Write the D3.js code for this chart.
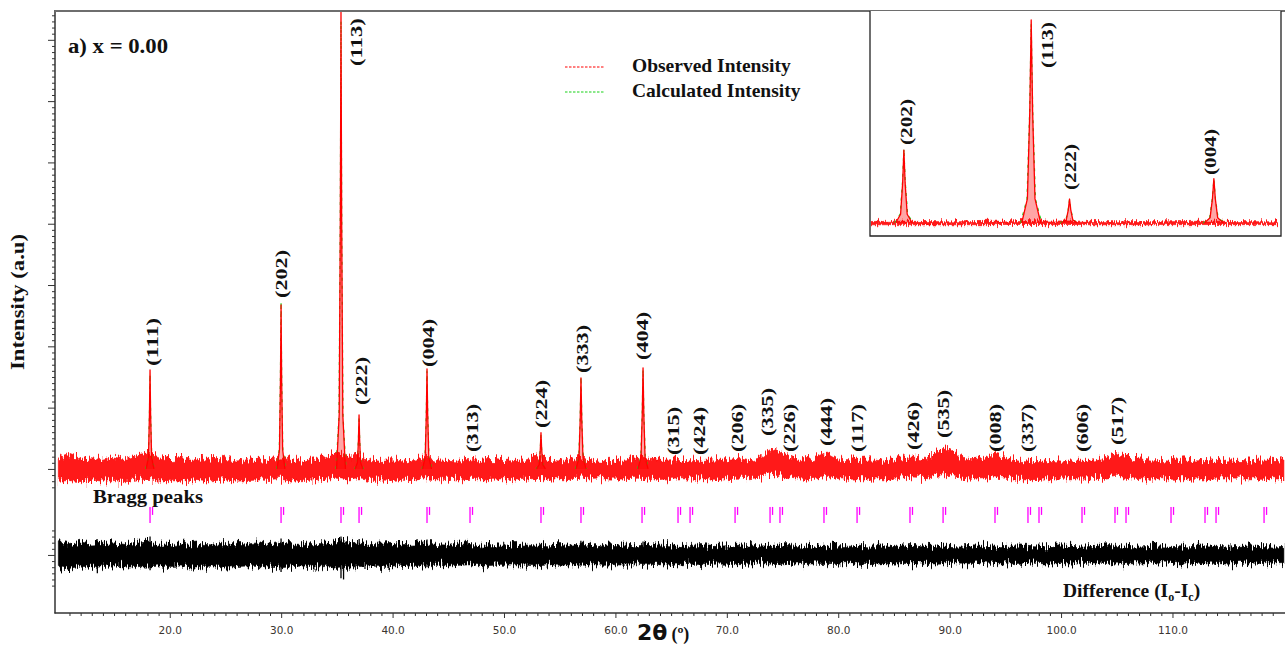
<!DOCTYPE html>
<html><head><meta charset="utf-8">
<script src="https://cdn.jsdelivr.net/npm/d3@7/dist/d3.min.js"></script>
<style>
body{margin:0;background:#fff;}
svg{display:block;}
.serif{font-family:"Liberation Serif","Times New Roman",serif;font-weight:bold;fill:#111;}
.tick text{font-family:"DejaVu Sans",Tahoma,sans-serif;font-size:10.5px;fill:#3b3530;}
</style></head><body>
<svg id="chart" width="1285" height="646"></svg>
<script>
// ---------- data (2θ in degrees, intensities in counts above background) ----------
// background envelope of the observed scan, sampled every 1° from 10° to 120°
const obsTop = [180,240,170,200,160,210,170,230,260,200,
  150,170,140,190,150,160,130,150,140,170,
  200,150,130,150,200,260,210,220,160,140,
  150,130,160,210,150,140,130,160,130,140,
  120,140,150,200,140,130,160,200,140,120,
  130,150,190,160,140,150,130,160,140,150,
  170,190,150,200,330,250,170,150,180,260,
  160,150,140,150,130,150,200,190,170,300,
  340,180,150,170,240,210,150,130,120,140,
  130,150,140,150,170,250,200,150,130,140,
  120,150,130,140,120,150,140,130,150,140,
  130];
const obsBottom = [-200,-190,-210,-180,-200,-190,-210,-180,-170,-200,
  -190,-200,-180,-200,-190,-180,-200,-190,-180,-190,
  -170,-200,-190,-180,-170,-150,-180,-160,-190,-180,
  -190,-170,-180,-160,-180,-170,-180,-170,-180,-170,
  -160,-180,-170,-150,-170,-160,-160,-150,-170,-160,
  -170,-160,-150,-170,-190,-170,-160,-170,-160,-170,
  -160,-150,-160,-140,-90,-120,-160,-170,-150,-120,
  -160,-170,-160,-170,-160,-170,-140,-150,-160,-100,
  -90,-150,-170,-160,-130,-150,-170,-180,-170,-160,
  -170,-160,-170,-160,-150,-120,-140,-160,-170,-160,
  -170,-160,-170,-160,-170,-160,-170,-160,-170,-160,
  -170];
// envelope of the difference trace (Io - Ic), same sampling
const diffTop = [200,170,210,180,190,200,170,190,210,180,
  180,200,170,190,180,170,190,180,200,170,
  220,180,170,190,180,240,200,210,170,180,
  190,170,180,200,170,160,180,170,160,170,
  160,170,180,160,150,170,160,180,150,160,
  170,160,150,170,160,150,140,160,150,140,
  150,140,160,150,140,150,160,140,150,140,
  150,160,140,130,150,140,150,160,140,150,
  140,130,150,140,130,140,150,140,130,140,
  150,140,130,140,150,160,140,130,140,150,
  140,130,140,150,140,130,140,150,140,130,
  140];
const diffBottom = [-190,-220,-180,-210,-190,-180,-200,-190,-200,-180,
  -190,-180,-200,-190,-180,-200,-190,-180,-190,-200,
  -210,-190,-180,-200,-190,-220,-200,-190,-180,-190,
  -180,-170,-190,-180,-170,-180,-170,-160,-180,-170,
  -170,-160,-170,-180,-160,-170,-160,-170,-160,-170,
  -160,-170,-160,-150,-160,-170,-160,-150,-160,-150,
  -150,-160,-150,-140,-150,-160,-150,-140,-150,-160,
  -150,-140,-150,-160,-140,-150,-140,-150,-140,-150,
  -140,-150,-140,-130,-140,-150,-140,-130,-140,-150,
  -140,-150,-140,-130,-140,-150,-140,-150,-140,-130,
  -140,-150,-140,-130,-140,-150,-140,-130,-140,-150,
  -140];
// isolated spikes in the difference trace: [2θ, low, high]
const diffSpikes = [[13.5,-300,150],[18.23,-250,300],[29.99,-280,270],[35.37,-380,300],
  [35.6,-400,100],[37.0,-150,260],[43.09,-200,250],[56.9,-150,230],[62.48,-180,220]];

// sharp reflections: position, observed height, calculated height, half base width
const peakTheta = [18.23, 29.99, 35.37, 36.99, 43.09, 53.32, 56.91, 62.48];
const peakObs   = [1615, 2675, 7450, 880, 1630, 590, 1485, 1650];
const peakCalc  = [1540, 2720, 7300, 860, 1600, 560, 1500, 1620];
const peakHalfWidth = [0.35, 0.35, 0.40, 0.35, 0.40, 0.40, 0.45, 0.45];

// Bragg reflection positions
const braggTheta = [18.23, 29.99, 35.37, 36.99, 43.09, 46.95, 53.32, 56.91, 62.39, 65.62,
  66.70, 70.74, 73.88, 74.77, 78.72, 81.69, 86.44, 89.41, 94.07, 97.03,
  98.02, 101.88, 104.84, 105.83, 109.87, 112.92, 113.91, 118.22];

// Miller-index annotations: label, 2θ of label, intensity level it sits on
const hkl = ["(111)","(202)","(113)","(222)","(004)","(313)","(224)","(333)","(404)","(315)",
  "(424)","(206)","(335)","(226)","(444)","(117)","(426)","(535)","(008)","(337)","(606)","(517)"];
const hklTheta = [18.41, 29.99, 36.72, 37.17, 43.18, 47.13, 53.32, 57.00, 62.39, 65.17,
  67.51, 70.92, 73.61, 75.58, 78.90, 81.69, 86.71, 89.41, 94.07, 96.95, 101.88, 105.03];
const hklLevel = [1599, 2708, 6490, 962, 1582, 196, 587, 1484, 1697, 147,
  147, 196, 457, 196, 294, 196, 228, 424, 196, 196, 196, 310];

// inset (28.6°–45.8°) annotations
const insetHkl = ["(202)","(113)","(222)","(004)"];
const insetTheta = [30.08, 36.04, 37.01, 42.93];
const insetLevel = [2679, 5505, 1028, 1578];

// axis ticks
const xMajor = [20, 30, 40, 50, 60, 70, 80, 90, 100, 110];
const xMinor = d3.range(11, 121).filter(v => v % 10 !== 0);
const yMajor = [0, 1000, 2000, 3000, 4000, 5000, 6000, 7000];
const yMinor = d3.range(-300, 7401, 100).filter(v => v % 1000 !== 0);

// ---------- layout ----------
const DIFF_OFFSET = -1403;            // baseline of the difference trace on the intensity axis
const BRAGG_TOP = -620, BRAGG_BOT = -880, BRAGG_K2 = -750;
const gridTheta = d3.range(10, 121, 1);

const svg = d3.select("#chart");
const x = d3.scaleLinear().domain([9.7, 120.1]).range([55, 1285]);
const y = d3.scaleLinear().domain([-2350, 7470]).range([613, 11]);

const RED = "#ff0000", GREEN = "#19d219", MAGENTA = "#ff00ff";

const defs = svg.append("defs");
defs.append("clipPath").attr("id", "plotClip")
  .append("rect").attr("x", 56).attr("y", 11).attr("width", 1229).attr("height", 601);

// ragged-edge texture for the dense scan bands (vertical displacement only)
function addRagged(id, freq, amount) {
  const f = defs.append("filter").attr("id", id)
    .attr("x", "-1%").attr("y", "-80%").attr("width", "102%").attr("height", "260%")
    .attr("color-interpolation-filters", "sRGB");
  f.append("feTurbulence").attr("type", "fractalNoise").attr("baseFrequency", freq)
    .attr("numOctaves", 2).attr("seed", 7).attr("result", "turb");
  f.append("feColorMatrix").attr("in", "turb").attr("type", "matrix")
    .attr("values", "0 0 0 0 0.5  0 1 0 0 0  0 0 1 0 0  0 0 0 0 1").attr("result", "map");
  f.append("feDisplacementMap").attr("in", "SourceGraphic").attr("in2", "map")
    .attr("scale", amount).attr("xChannelSelector", "R").attr("yChannelSelector", "G");
}
addRagged("ragged", "0.8 0.06", 18);
addRagged("raggedSmall", "0.8 0.08", 9);

const plot = svg.append("g").attr("clip-path", "url(#plotClip)");

// peak glyph: fractional offsets across the base and fractional heights
const profile = [[-1,0],[-0.4,0.12],[-0.15,0.55],[0,1],[0.15,0.55],[0.4,0.12],[1,0]];
function peakPoints(t, h, hw) {
  return profile.map(([f, k]) => ({t: t + f * hw, v: k * h}));
}

function drawScan(g, xs, ys, opts) {
  const band = gridTheta.map((t, i) => ({t, hi: obsTop[i], lo: obsBottom[i]}));
  g.append("path").datum(band)
    .attr("d", d3.area().x(d => xs(d.t)).y0(d => ys(d.lo * opts.noise)).y1(d => ys(d.hi * opts.noise)))
    .attr("fill", RED).attr("fill-opacity", 0.9)
    .attr("stroke", RED).attr("stroke-width", 0.6)
    .attr("filter", `url(#${opts.filter})`);
  const ln = d3.line().x(d => xs(d.t)).y(d => ys(d.v));
  peakTheta.forEach((t, i) => {
    g.append("path").attr("d", ln(peakPoints(t, peakCalc[i], peakHalfWidth[i] * 1.12)))
      .attr("fill", "none").attr("stroke", GREEN).attr("stroke-width", 1.2)
      .attr("stroke-dasharray", "3,5");
    g.append("path").attr("d", ln(peakPoints(t, peakObs[i], peakHalfWidth[i])))
      .attr("fill", "rgba(255,0,0,0.35)").attr("stroke", RED).attr("stroke-width", 1.3)
      .attr("stroke-linejoin", "round");
  });
}

// observed / calculated
drawScan(plot, x, y, {noise: 1, filter: "ragged"});

// Bragg markers
const bragg = plot.append("g").attr("stroke", MAGENTA).attr("stroke-width", 1.3);
braggTheta.forEach(t => {
  bragg.append("line").attr("x1", x(t)).attr("x2", x(t)).attr("y1", y(BRAGG_TOP)).attr("y2", y(BRAGG_BOT));
  bragg.append("line").attr("x1", x(t) + 2.5).attr("x2", x(t) + 2.5).attr("y1", y(BRAGG_TOP)).attr("y2", y(BRAGG_K2));
});

// difference trace
const diffBand = gridTheta.map((t, i) => ({t, hi: diffTop[i], lo: diffBottom[i]}));
plot.append("path").datum(diffBand)
  .attr("d", d3.area().x(d => x(d.t)).y0(d => y(DIFF_OFFSET + d.lo)).y1(d => y(DIFF_OFFSET + d.hi)))
  .attr("fill", "#000").attr("stroke", "#000").attr("stroke-width", 0.6)
  .attr("filter", "url(#ragged)");
diffSpikes.forEach(([t, lo, hi]) => {
  plot.append("line").attr("x1", x(t)).attr("x2", x(t))
    .attr("y1", y(DIFF_OFFSET + lo)).attr("y2", y(DIFF_OFFSET + hi))
    .attr("stroke", "#000").attr("stroke-width", 1.3);
});

// Miller indices
hkl.forEach((lab, i) => {
  svg.append("text").attr("class", "serif")
    .attr("transform", `translate(${x(hklTheta[i]) + 6},${y(hklLevel[i]) - 5}) rotate(-90)`)
    .attr("font-size", 17).attr("textLength", 48).attr("lengthAdjust", "spacingAndGlyphs")
    .text(lab);
});

// ---------- axes ----------
const axisColor = "#333";
function styleAxis(g) {
  g.select(".domain").remove();
  g.selectAll(".tick line").attr("stroke", axisColor).attr("stroke-width", 1);
}
svg.append("g").attr("transform", "translate(55,0)")
  .call(d3.axisLeft(y).tickValues(yMajor).tickSize(7).tickFormat("")).call(styleAxis);
svg.append("g").attr("transform", "translate(55,0)")
  .call(d3.axisLeft(y).tickValues(yMinor).tickSize(3).tickFormat("")).call(styleAxis);
const diffTicks = d3.range(-500, 401, 100);
svg.append("g").attr("transform", "translate(55,0)")
  .call(d3.axisLeft(y).tickValues(diffTicks.map(v => DIFF_OFFSET + v))
    .tickSize(3).tickFormat("")).call(styleAxis)
  .selectAll(".tick line").attr("x2", (d) => d === DIFF_OFFSET ? -7 : -3);

svg.append("g").attr("transform", "translate(0,613)")
  .call(d3.axisBottom(x).tickValues(xMajor).tickSize(5).tickPadding(9).tickFormat(d3.format(".1f")))
  .call(styleAxis);
svg.append("g").attr("transform", "translate(0,613)")
  .call(d3.axisBottom(x).tickValues(xMinor).tickSize(3).tickFormat("")).call(styleAxis);

// frame lines
svg.append("line").attr("x1", 55).attr("x2", 55).attr("y1", 10).attr("y2", 613.5)
  .attr("stroke", axisColor).attr("stroke-width", 1.5);
svg.append("line").attr("x1", 54.5).attr("x2", 1285).attr("y1", 613).attr("y2", 613)
  .attr("stroke", axisColor).attr("stroke-width", 1.5);
svg.append("line").attr("x1", 55).attr("x2", 1285).attr("y1", 11).attr("y2", 11)
  .attr("stroke", "#6e6e6e").attr("stroke-width", 2);

// ---------- inset: 28.6°–45.8° ----------
const ix = d3.scaleLinear().domain([28.6, 45.8]).range([871, 1278]);
const iy = d3.scaleLinear().domain([-477, 7450]).range([236, 20]);
svg.append("rect").attr("x", 870).attr("y", 11).attr("width", 411).attr("height", 225)
  .attr("fill", "#fff").attr("stroke", "none");
defs.append("clipPath").attr("id", "insetClip")
  .append("rect").attr("x", 871).attr("y", 12).attr("width", 407).attr("height", 223);
const inset = svg.append("g").attr("clip-path", "url(#insetClip)");
drawScan(inset, ix, iy, {noise: 0.35, filter: "raggedSmall"});
svg.append("path").attr("d", "M870,11V236H1281V11")
  .attr("fill", "none").attr("stroke", "#222").attr("stroke-width", 1.3);
insetHkl.forEach((lab, i) => {
  svg.append("text").attr("class", "serif")
    .attr("transform", `translate(${ix(insetTheta[i]) + 6},${iy(insetLevel[i]) - 5}) rotate(-90)`)
    .attr("font-size", 16).attr("textLength", 46).attr("lengthAdjust", "spacingAndGlyphs")
    .text(lab);
});

// ---------- text ----------
svg.append("text").attr("class", "serif").attr("x", 68).attr("y", 53)
  .attr("font-size", 20).attr("textLength", 100).attr("lengthAdjust", "spacingAndGlyphs")
  .text("a) x = 0.00");

svg.append("text").attr("class", "serif").attr("font-size", 19)
  .attr("transform", "translate(24,302) rotate(-90)").attr("text-anchor", "middle")
  .attr("textLength", 136).attr("lengthAdjust", "spacingAndGlyphs")
  .text("Intensity (a.u)");

svg.append("text").attr("class", "serif").attr("x", 93).attr("y", 503)
  .attr("font-size", 19).attr("textLength", 110).attr("lengthAdjust", "spacingAndGlyphs")
  .text("Bragg peaks");

const diffLabel = svg.append("text").attr("class", "serif").attr("x", 1063).attr("y", 597)
  .attr("font-size", 19.5);
diffLabel.append("tspan").text("Difference (I");
diffLabel.append("tspan").attr("font-size", 12).attr("dy", 4).text("o");
diffLabel.append("tspan").attr("dy", -4).text("-I");
diffLabel.append("tspan").attr("font-size", 12).attr("dy", 4).text("c");
diffLabel.append("tspan").attr("dy", -4).text(")");

// x-axis title
const xt = svg.append("text").attr("x", 637).attr("y", 640);
xt.append("tspan").attr("font-family", "'DejaVu Sans',sans-serif").attr("font-weight", "bold")
  .attr("font-size", 22).attr("fill", "#111").text("2θ");
xt.append("tspan").attr("class", "serif").attr("font-size", 18).attr("dx", 4).text("(º)");

// legend
const legend = [{label: "Observed Intensity", color: RED}, {label: "Calculated Intensity", color: GREEN}];
legend.forEach((d, i) => {
  const ly = 67 + i * 25;
  svg.append("line").attr("x1", 565).attr("x2", 605).attr("y1", ly).attr("y2", ly)
    .attr("stroke", d.color).attr("stroke-width", 1.2).attr("stroke-dasharray", "2.5,1.5");
  svg.append("text").attr("class", "serif").attr("x", 632).attr("y", ly + 5)
    .attr("font-size", 19.5).text(d.label);
});
</script>
</body></html>
